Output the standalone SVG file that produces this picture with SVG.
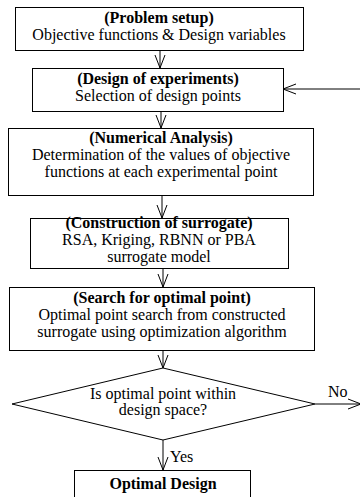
<svg xmlns="http://www.w3.org/2000/svg" width="360" height="497" viewBox="0 0 360 497">
<style>
.box{fill:#fff;stroke:#000;stroke-width:1}
.t{font-family:"Liberation Serif","Times New Roman",serif;font-size:16px;fill:#000;text-anchor:middle}
.b{font-weight:bold}
.c{stroke:#000;stroke-width:1;fill:none}
</style>
<defs>
<marker id="v" markerWidth="14" markerHeight="16" refX="13" refY="8" orient="auto" markerUnits="userSpaceOnUse">
<path d="M0,3 L13,8 L0,13" fill="none" stroke="#000" stroke-width="1"/>
</marker>
</defs>
<rect width="360" height="497" fill="#fff"/>
<g id="connectors">
<line class="c" x1="160" y1="50" x2="160" y2="68" marker-end="url(#v)"/>
<line class="c" x1="161" y1="111" x2="161" y2="128" marker-end="url(#v)"/>
<line class="c" x1="162" y1="195" x2="162" y2="218" marker-end="url(#v)"/>
<line class="c" x1="163" y1="268" x2="163" y2="287" marker-end="url(#v)"/>
<line class="c" x1="163" y1="350" x2="163" y2="368" marker-end="url(#v)"/>
<line class="c" x1="163" y1="440" x2="163" y2="470" marker-end="url(#v)"/>
<line class="c" x1="315" y1="404" x2="361" y2="404" marker-end="url(#v)"/>
<line class="c" x1="360" y1="89" x2="283" y2="89" marker-end="url(#v)"/>
<text class="t" x="170" y="462" text-anchor="start" style="text-anchor:start">Yes</text>
<text class="t" x="328" y="397" style="text-anchor:start">No</text>
</g>
<g id="n1">
<rect class="box" x="15.5" y="7.5" width="288" height="43"/>
<text class="t b" x="159" y="23">(Problem setup)</text>
<text class="t" x="159" y="40">Objective functions &amp; Design variables</text>
</g>
<g id="n2">
<rect class="box" x="32.5" y="68.5" width="251" height="43"/>
<text class="t b" x="158" y="84">(Design of experiments)</text>
<text class="t" x="158" y="101">Selection of design points</text>
</g>
<g id="n3">
<rect class="box" x="8.5" y="128.5" width="305" height="67"/>
<text class="t b" x="161" y="143">(Numerical Analysis)</text>
<text class="t" x="161" y="160">Determination of the values of objective</text>
<text class="t" x="161" y="177">functions at each experimental point</text>
</g>
<g id="n4">
<rect class="box" x="30.5" y="218.5" width="258" height="50"/>
<text class="t b" x="159" y="228">(Construction of surrogate)</text>
<text class="t" x="159" y="245">RSA, Kriging, RBNN or PBA</text>
<text class="t" x="159" y="262">surrogate model</text>
</g>
<g id="n5">
<rect class="box" x="9.5" y="287.5" width="305" height="63"/>
<text class="t b" x="162" y="303">(Search for optimal point)</text>
<text class="t" x="162" y="320">Optimal point search from constructed</text>
<text class="t" x="162" y="337">surrogate using optimization algorithm</text>
</g>
<g id="n6">
<polygon class="box" points="163,368 315,404 163,440 12,404"/>
<text class="t" x="163" y="399">Is optimal point within</text>
<text class="t" x="163" y="415">design space?</text>
</g>
<g id="n7">
<rect class="box" x="74.5" y="470.5" width="176" height="40"/>
<text class="t b" x="163" y="489">Optimal Design</text>
</g>
</svg>
